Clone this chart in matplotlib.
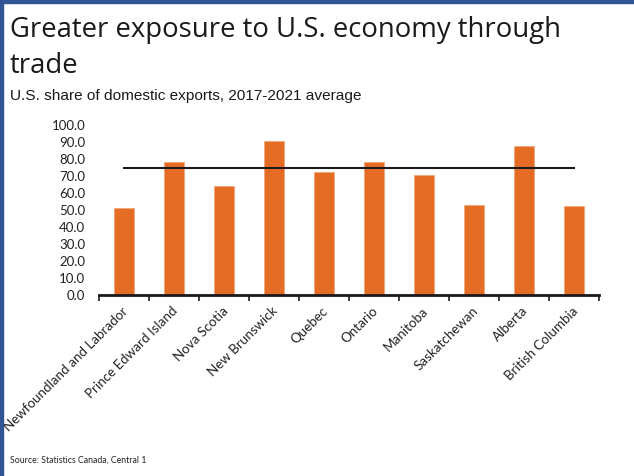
import matplotlib.pyplot as plt
from matplotlib.patches import Rectangle
import numpy as np

provinces = ["Newfoundland and Labrador", "Prince Edward Island", "Nova Scotia",
             "New Brunswick", "Quebec", "Ontario", "Manitoba", "Saskatchewan",
             "Alberta", "British Columbia"]
us_share = [50.8, 78.0, 63.8, 90.5, 72.1, 78.1, 70.5, 52.6, 87.6, 52.2]
canada_avg = [74.4] * len(provinces)
y_ticks = [0, 10, 20, 30, 40, 50, 60, 70, 80, 90, 100]

orange = "#E46C24"

fig = plt.figure(figsize=(6.34, 4.76), dpi=100)
ax = fig.add_axes([99 / 634, 1 - 294.5 / 476, 500 / 634, 169.5 / 476])

x = np.arange(len(provinces))
ax.bar(x, us_share, width=0.4, color=orange, edgecolor="#F4A57A", linewidth=0.6)
ax.plot(x, canada_avg, color="#1a1a1a", linewidth=1.5)

ax.set_xlim(-0.5, len(provinces) - 0.5)
ax.set_ylim(0, 100)
ax.set_yticks(y_ticks)
ax.set_yticklabels([f"{v:.1f}" for v in y_ticks], fontfamily="Lato", fontsize=9.5,
                   color="#222222")
ax.tick_params(axis="y", length=0, pad=10)

# ticks between categories, labels at centres
ax.set_xticks(np.arange(-0.5, len(provinces)), minor=False)
ax.set_xticklabels([])
ax.tick_params(axis="x", length=4, width=1.2, color="#1a1a1a", direction="out")
for i, name in enumerate(provinces):
    ax.text(i + 0.04, -8.5, name, rotation=45, rotation_mode="anchor",
            ha="right", va="center", fontfamily="Lato", fontsize=9.6,
            color="#222222")

for side in ["top", "right", "left"]:
    ax.spines[side].set_visible(False)
ax.spines["bottom"].set_linewidth(2)
ax.spines["bottom"].set_color("#1a1a1a")

fig.text(10 / 634, 1 - 37 / 476, "Greater exposure to U.S. economy through",
         fontfamily="Open Sans", fontsize=19.8, color="#1a1a1a", va="baseline")
fig.text(10 / 634, 1 - 73 / 476, "trade",
         fontfamily="Open Sans", fontsize=19.8, color="#1a1a1a", va="baseline")
fig.text(10 / 634, 1 - 100 / 476, "U.S. share of domestic exports, 2017-2021 average",
         fontfamily="Liberation Sans", fontsize=11.1, color="#1a1a1a", va="baseline")
fig.text(10 / 634, 1 - 463 / 476, "Source: Statistics Canada, Central 1",
         fontfamily="Lato", fontsize=6.3, color="#222222", va="baseline")

# blue frame along top and left edges
fig.patches.append(Rectangle((0, 1 - 3 / 476), 1, 3 / 476, transform=fig.transFigure,
                             color="#2F5597", zorder=10))
fig.patches.append(Rectangle((0, 0), 3 / 634, 1, transform=fig.transFigure,
                             color="#2F5597", zorder=10))

fig.savefig("out.png", dpi=100)
